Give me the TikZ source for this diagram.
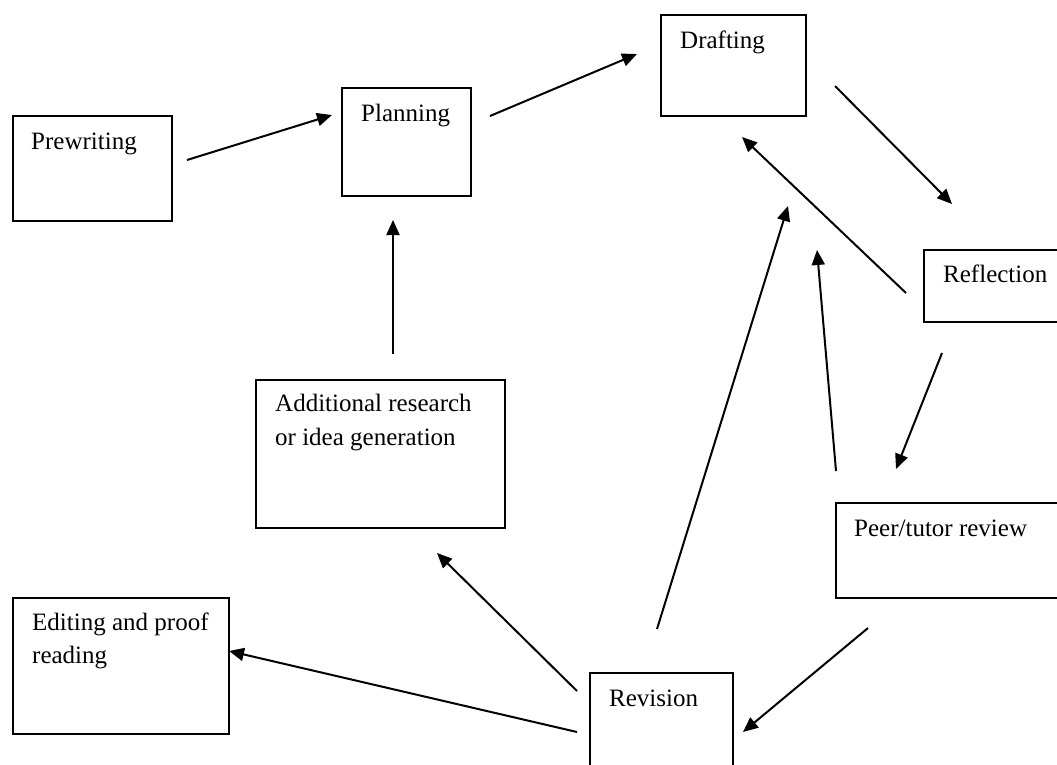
\documentclass[tikz,border=0pt]{standalone}
\usepackage{fontspec}
\setmainfont{Liberation Serif}
\usetikzlibrary{arrows.meta}
\begin{document}
\begin{tikzpicture}[x=1pt,y=-1pt,
  box/.style={draw,line width=2pt,inner sep=0pt,anchor=north west},
  txt/.style={anchor=base west,inner sep=0pt,font=\fontsize{25}{34}\selectfont},
  flow/.style={line width=2pt,-{Triangle[length=15pt,width=13pt]}}]
\useasboundingbox (0,0) rectangle (1057,764);
\clip (0,0) rectangle (1057,764);

% stage boxes
\node[box,minimum width=159pt,minimum height=105pt] (pre)   at (12,115)  {};
\node[box,minimum width=129pt,minimum height=108pt] (plan)  at (341,87)  {};
\node[box,minimum width=145pt,minimum height=101pt] (draft) at (660,14)  {};
\node[box,minimum width=160pt,minimum height=72pt]  (refl)  at (923,249) {};
\node[box,minimum width=249pt,minimum height=148pt] (add)   at (255,379) {};
\node[box,minimum width=240pt,minimum height=95pt]  (peer)  at (835,502) {};
\node[box,minimum width=216pt,minimum height=136pt] (edit)  at (12,597)  {};
\node[box,minimum width=143pt,minimum height=120pt] (rev)   at (589,672) {};

% stage labels
\node[txt] (preT)   at (31,149)  {Prewriting};
\node[txt] (planT)  at (361,121) {Planning};
\node[txt] (draftT) at (680,48)  {Drafting};
\node[txt] (reflT)  at (943,282) {Reflection};
\node[txt] (addT1)  at (275,411) {Additional research};
\node[txt] (addT2)  at (275,445) {or idea generation};
\node[txt] (peerT)  at (854,536) {Peer/tutor review};
\node[txt] (editT1) at (32,630)  {Editing and proof};
\node[txt] (editT2) at (32,663)  {reading};
\node[txt] (revT)   at (609,706) {Revision};

% arrow end points
\coordinate (a1s) at (187,160); \coordinate (a1e) at (332,115);
\coordinate (a2s) at (490,116); \coordinate (a2e) at (637,54);
\coordinate (a3s) at (835,86);  \coordinate (a3e) at (952,204);
\coordinate (a4s) at (906,293); \coordinate (a4e) at (742,137);
\coordinate (a5s) at (942,353); \coordinate (a5e) at (896,469);
\coordinate (a6s) at (836,471); \coordinate (a6e) at (817,250);
\coordinate (a7s) at (657,629); \coordinate (a7e) at (788,206);
\coordinate (a8s) at (868,628); \coordinate (a8e) at (743,732);
\coordinate (a9s) at (577,691); \coordinate (a9e) at (437,553);
\coordinate (a10s) at (577,732); \coordinate (a10e) at (229,651);
\coordinate (a11s) at (393,354); \coordinate (a11e) at (393,220);

% connectors
\draw[flow] (a1s) -- (a1e);
\draw[flow] (a2s) -- (a2e);
\draw[flow] (a3s) -- (a3e);
\draw[flow] (a4s) -- (a4e);
\draw[flow] (a5s) -- (a5e);
\draw[flow] (a6s) -- (a6e);
\draw[flow] (a7s) -- (a7e);
\draw[flow] (a8s) -- (a8e);
\draw[flow] (a9s) -- (a9e);
\draw[flow] (a10s) -- (a10e);
\draw[flow] (a11s) -- (a11e);
\end{tikzpicture}
\end{document}
